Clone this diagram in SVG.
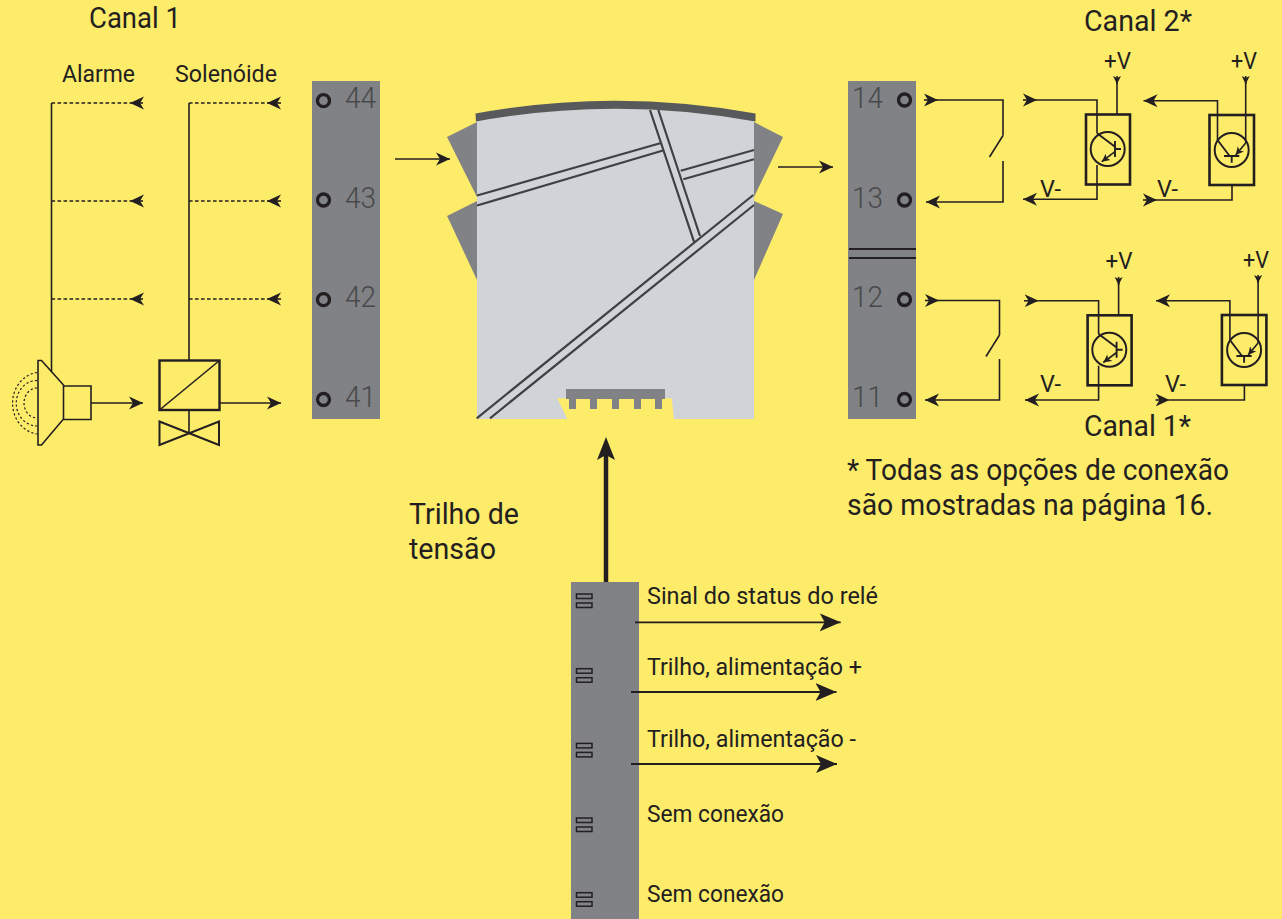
<svg xmlns="http://www.w3.org/2000/svg" width="1282" height="919" viewBox="0 0 1282 919">
<style>
text{font-family:Roboto,"Noto Sans",sans-serif;fill:#231f20;font-weight:400}
.s{font-size:24.500px}.m{font-size:29px}
.n{font-size:30px;fill:#48494b;font-weight:300}
.l{fill:none;stroke:#231f20;stroke-width:1.6}
.d{stroke-dasharray:3.6 2.4;stroke-width:1.7}
.b{fill:none;stroke:#231f20;stroke-width:2.4}
.w{fill:none;stroke:#414042;stroke-width:2.2}
.g{fill:#808285}
.c{fill:none;stroke:#231f20;stroke-width:3.300}
.r{fill:none;stroke:#231f20;stroke-width:1.500}
.v{font-size:24px}
</style>
<defs>
<marker id="a" markerUnits="userSpaceOnUse" markerWidth="16" markerHeight="15" refX="14" refY="7.500" orient="auto"><path d="M14 7.500L0 1L4 7.500L0 14Z" fill="#231f20"/></marker>
<marker id="big" markerUnits="userSpaceOnUse" markerWidth="24" markerHeight="22" refX="21" refY="10" orient="auto"><path d="M21 10L0 1L5 10L0 19Z" fill="#231f20"/></marker>
<marker id="t" markerUnits="userSpaceOnUse" markerWidth="9" markerHeight="10" refX="8" refY="4.500" orient="auto"><path d="M8 4.500L0 0.500L2 4.500L0 8.500Z" fill="#231f20"/></marker>
<g id="tr1">
<rect class="b" x="1086" y="114.500" width="44" height="70" style="stroke-width:2.600"/>
<circle cx="1107.700" cy="149" r="17" class="l" style="stroke-width:2"/>
<path class="l" d="M1115 141V157M1115 149H1121M1097 133.300L1115 146.700" style="stroke-width:1.900"/>
<path class="l" marker-end="url(#t)" d="M1115 151.700L1101.700 161.700"/>
</g>
<g id="tr2">
<rect class="b" x="1209.500" y="115" width="44.500" height="70" style="stroke-width:2.600"/>
<circle cx="1231.700" cy="150" r="17" class="l" style="stroke-width:2"/>
<path class="l" d="M1224 156H1239.300M1231.700 156V162.700M1217.500 140L1230 156.500" style="stroke-width:1.900"/>
<path class="l" marker-end="url(#t)" d="M1245.700 143L1235.700 155"/>
</g>
</defs>
<rect id="background" width="1282" height="919" fill="#fdeb6a"/>

<g id="labels">
<text class="m" x="89" y="28" textLength="92" lengthAdjust="spacingAndGlyphs">Canal 1</text>
<text class="m" x="1084" y="31" textLength="108" lengthAdjust="spacingAndGlyphs">Canal 2*</text>
<text class="m" x="1084" y="436" textLength="107" lengthAdjust="spacingAndGlyphs">Canal 1*</text>
<text class="s" x="62" y="82" textLength="73" lengthAdjust="spacingAndGlyphs">Alarme</text>
<text class="s" x="175" y="82" textLength="102" lengthAdjust="spacingAndGlyphs">Solenóide</text>
<text class="m" x="847" y="480" textLength="382" lengthAdjust="spacingAndGlyphs">* Todas as opções de conexão</text>
<text class="m" x="847" y="515" textLength="366" lengthAdjust="spacingAndGlyphs">são mostradas na página 16.</text>
<text class="m" x="409" y="524" textLength="110" lengthAdjust="spacingAndGlyphs">Trilho de</text>
<text class="m" x="409" y="559" textLength="87" lengthAdjust="spacingAndGlyphs">tensão</text>
<text class="s" x="647" y="604" textLength="231" lengthAdjust="spacingAndGlyphs">Sinal do status do relé</text>
<text class="s" x="647" y="675" textLength="215" lengthAdjust="spacingAndGlyphs">Trilho, alimentação +</text>
<text class="s" x="647" y="747" textLength="209" lengthAdjust="spacingAndGlyphs">Trilho, alimentação -</text>
<text class="s" x="647" y="822" textLength="137" lengthAdjust="spacingAndGlyphs">Sem conexão</text>
<text class="s" x="647" y="902" textLength="137" lengthAdjust="spacingAndGlyphs">Sem conexão</text>
</g>

<g id="terminal-left">
<rect class="g" x="312" y="81" width="68" height="338"/>
<circle class="c" cx="323.500" cy="100.700" r="6"/><circle class="c" cx="323.500" cy="200" r="6"/><circle class="c" cx="323.500" cy="299.700" r="6"/><circle class="c" cx="323.500" cy="399.500" r="6"/>
<text class="n" x="345" y="108" textLength="31" lengthAdjust="spacingAndGlyphs">44</text>
<text class="n" x="345" y="208" textLength="31" lengthAdjust="spacingAndGlyphs">43</text>
<text class="n" x="345" y="307" textLength="31" lengthAdjust="spacingAndGlyphs">42</text>
<text class="n" x="345" y="407" textLength="31" lengthAdjust="spacingAndGlyphs">41</text>
</g>

<g id="terminal-right">
<rect class="g" x="848" y="81" width="68" height="338"/>
<path d="M849 249H916M849 258H916" fill="none" stroke="#231f20" stroke-width="2"/>
<circle class="c" cx="904.500" cy="100" r="6"/><circle class="c" cx="904.500" cy="200" r="6"/><circle class="c" cx="904.500" cy="299.500" r="6"/><circle class="c" cx="904.500" cy="399.500" r="6"/>
<text class="n" x="852" y="108" textLength="31" lengthAdjust="spacingAndGlyphs">14</text>
<text class="n" x="852" y="208" textLength="31" lengthAdjust="spacingAndGlyphs">13</text>
<text class="n" x="852" y="307" textLength="31" lengthAdjust="spacingAndGlyphs">12</text>
<text class="n" x="852" y="407" textLength="31" lengthAdjust="spacingAndGlyphs">11</text>
</g>

<g id="terminal-bottom">
<rect class="g" x="571" y="582" width="68" height="337"/>
<g class="r"><rect x="576.500" y="594" width="15.500" height="4.500"/><rect x="576.500" y="603" width="15.500" height="4.500"/>
<rect x="576.500" y="668.700" width="15.500" height="4.500"/><rect x="576.500" y="677.700" width="15.500" height="4.500"/>
<rect x="576.500" y="743.400" width="15.500" height="4.500"/><rect x="576.500" y="752.400" width="15.500" height="4.500"/>
<rect x="576.500" y="818" width="15.500" height="4.500"/><rect x="576.500" y="827" width="15.500" height="4.500"/>
<rect x="576.500" y="892.700" width="15.500" height="4.500"/><rect x="576.500" y="901.700" width="15.500" height="4.500"/></g>
</g>

<g id="module">
<path class="g" d="M477 122L447 137L449 141L477 197ZM477 201L447 216L449 220L477 280ZM754 122L783 137L754 197ZM754 201L783 214L754 280Z"/>
<path fill="#d0d3d8" d="M477 120Q615 97 754 120V419H477Z"/>
<path fill="#58595b" d="M475.500 113.500Q615 88 755.500 113.500V121.500Q615 96 476 121.500Z"/>
<path fill="#fdeb6a" d="M557.300 398.300H671.700L674 420H567.700Z"/>
<path class="g" d="M566 389H665V399H662V409H655V399H641V409H634V399H619V409H612V399H597V409H590V399H576V409H569V399H566Z"/>
<path class="w" d="M477 195.500L661 143M477 205.500L663 150.500M650 110L694.300 242.700M658.300 110L700 236M680.700 170.700L754 150M683.300 179.300L754 159.300M476.700 418.300L753.300 195M490 418.300L754 205"/>
</g>

<g id="horn">
<path class="l" d="M38 360.500H41.500L63.500 385V419L41.500 445H38ZM63.500 386H91V419.500H63.500Z"/>
<path class="l" style="stroke-width:1.200;stroke-dasharray:2.200 2.200" d="M37 372.500A28 31 0 0 0 37 434M37 380.500A20.500 22.500 0 0 0 37 426M37 388A13 15 0 0 0 37 418"/>
</g>
<g id="solenoid">
<rect class="b" x="159.500" y="360.500" width="60" height="49.500"/>
<path class="l" d="M159.500 410L219.500 360.500"/>
<path class="b" style="stroke-width:2" d="M159.500 421.500L219 445V421.500L159.500 445Z"/>
<path class="l" d="M189 410V433"/>
</g>
<g id="relay-upper"><path class="l" d="M1003 135.500L989.500 157"/></g>
<g id="relay-lower"><path class="l" d="M999.500 335L986 356.500"/></g>
<g id="transistor-c2-a"><use href="#tr1"/><text class="v" x="1104" y="69" textLength="27" lengthAdjust="spacingAndGlyphs">+V</text><text class="v" x="1040" y="197" textLength="21" lengthAdjust="spacingAndGlyphs">V-</text></g>
<g id="transistor-c2-b"><use href="#tr2"/><text class="v" x="1231" y="69" textLength="26" lengthAdjust="spacingAndGlyphs">+V</text><text class="v" x="1157" y="197" textLength="21" lengthAdjust="spacingAndGlyphs">V-</text></g>
<g id="transistor-c1-a"><use href="#tr1" transform="translate(1.600 200.800)"/><text class="v" x="1105.500" y="269" textLength="27" lengthAdjust="spacingAndGlyphs">+V</text><text class="v" x="1040" y="392" textLength="21" lengthAdjust="spacingAndGlyphs">V-</text></g>
<g id="transistor-c1-b"><use href="#tr2" transform="translate(12.400 200)"/><text class="v" x="1243" y="268" textLength="26" lengthAdjust="spacingAndGlyphs">+V</text><text class="v" x="1165" y="392" textLength="21" lengthAdjust="spacingAndGlyphs">V-</text></g>

<g id="connectors">
<g class="l">
<path d="M51.500 372V103"/><path d="M189 360V103"/>
<path class="d" d="M51.500 103H130"/><path d="M143 103H130" marker-end="url(#a)"/>
<path class="d" d="M51.500 201H130"/><path d="M143 201H130" marker-end="url(#a)"/>
<path class="d" d="M51.500 299H130"/><path d="M143 299H130" marker-end="url(#a)"/>
<path class="d" d="M189 103H267"/><path d="M281 103H267" marker-end="url(#a)"/>
<path class="d" d="M189 201H267"/><path d="M281 201H267" marker-end="url(#a)"/>
<path class="d" d="M189 299H267"/><path d="M281 299H267" marker-end="url(#a)"/>
<path d="M91 403H143" marker-end="url(#a)"/>
<path d="M219 403H281" marker-end="url(#a)"/>
<path d="M395 159H450" marker-end="url(#a)"/>
<path d="M778 167H833" marker-end="url(#a)"/>
<path d="M1003 135.500V100H938"/><path d="M924 100H938" marker-end="url(#a)"/>
<path d="M1003 161V202H926" marker-end="url(#a)"/>
<path d="M999.500 335V300.500H939"/><path d="M925 300.500H939" marker-end="url(#a)"/>
<path d="M999.500 359V400H925" marker-end="url(#a)"/>
<path d="M1097 133.300V100H1037"/><path d="M1023 100H1037" marker-end="url(#a)"/>
<path d="M1097 165V199.300H1023" marker-end="url(#a)"/>
<path d="M1117 114V78"/><path d="M1117 76V84" marker-end="url(#t)"/>
<path d="M1217.500 140V100.700H1143.500" marker-end="url(#a)"/>
<path d="M1232 185V200H1157"/><path d="M1143 200H1157" marker-end="url(#a)"/>
<path d="M1245.700 143V78"/><path d="M1245.700 76V84" marker-end="url(#t)"/>
<path d="M1098.600 334.100V300.800H1038.600"/><path d="M1024 300.800H1038.600" marker-end="url(#a)"/>
<path d="M1098.600 365.800V400H1025" marker-end="url(#a)"/>
<path d="M1118.600 315V279"/><path d="M1118.600 277V285" marker-end="url(#t)"/>
<path d="M1229.900 340V300.700H1156" marker-end="url(#a)"/>
<path d="M1244.400 385V400H1169.500"/><path d="M1155.500 400H1169.500" marker-end="url(#a)"/>
<path d="M1258.100 343V277"/><path d="M1258.100 275V283" marker-end="url(#t)"/>
<path d="M635 622.300H840.700" marker-end="url(#big)" style="stroke-width:1.800"/>
<path d="M631 692H836.500" marker-end="url(#big)" style="stroke-width:1.800"/>
<path d="M631 764H837" marker-end="url(#big)" style="stroke-width:1.800"/>
</g>
<path d="M606 582V450" fill="none" stroke="#231f20" stroke-width="4.500"/>
<path d="M606 437L615 460L606 455L597 460Z" fill="#231f20"/>
</g>
</svg>
